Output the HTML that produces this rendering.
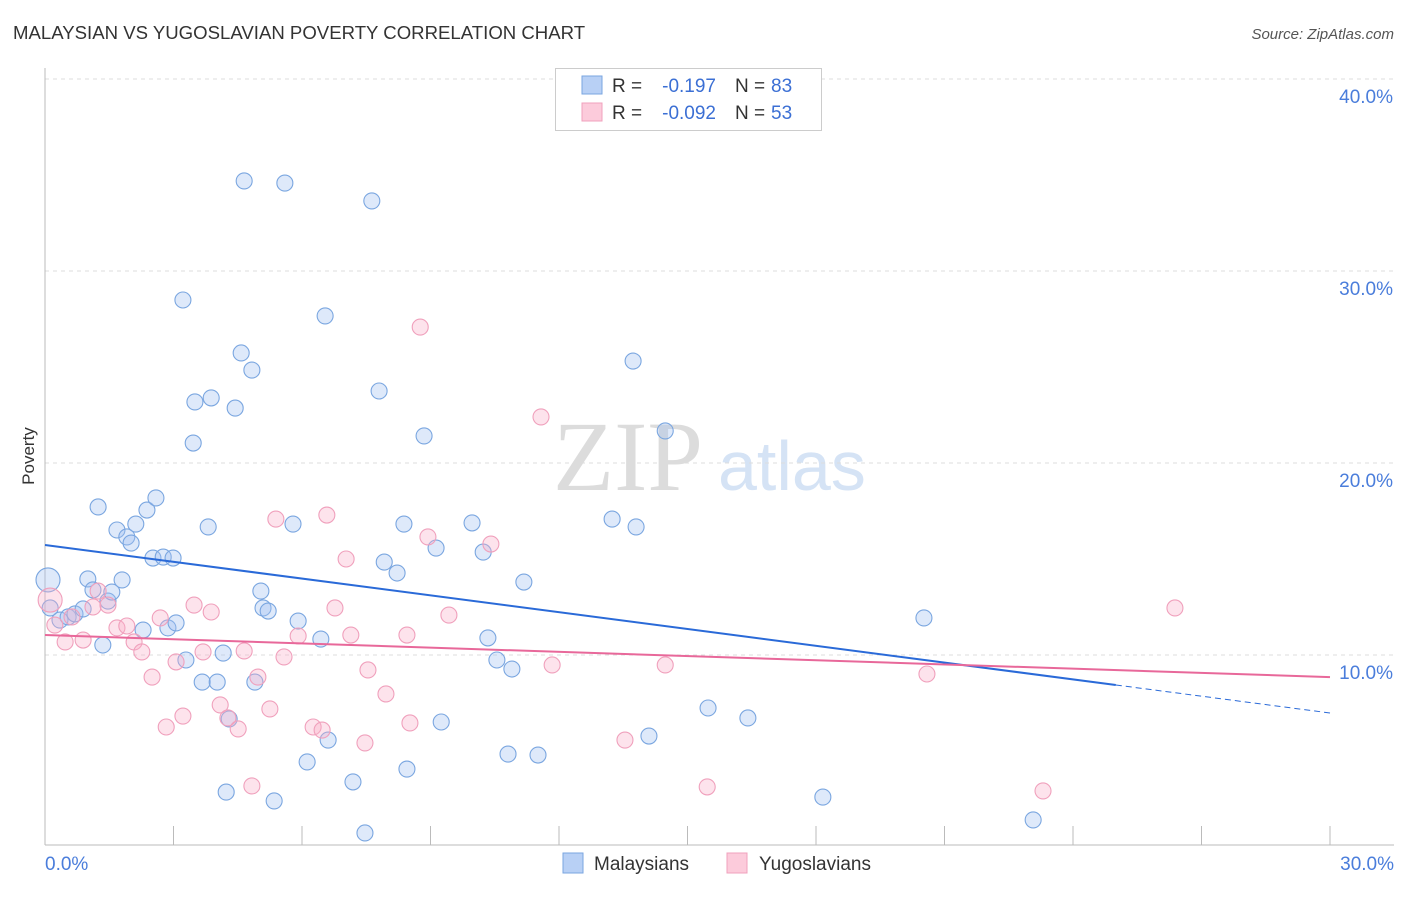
<!DOCTYPE html>
<html><head><meta charset="utf-8"><style>
body{margin:0;background:#fff;font-family:"Liberation Sans",sans-serif;}
</style></head><body>
<svg id="chart" width="1406" height="892" font-family="Liberation Sans, sans-serif">
<text x="13" y="39" font-size="18.6" fill="#333">MALAYSIAN VS YUGOSLAVIAN POVERTY CORRELATION CHART</text>
<text x="1394" y="39" font-size="15" fill="#555" font-style="italic" text-anchor="end">Source: ZipAtlas.com</text>
<text x="34" y="456" font-size="17" fill="#333" transform="rotate(-90 34 456)" text-anchor="middle">Poverty</text>
<g>
<text x="553" y="490" font-size="100" fill="#dcdcdc" style="font-family:'Liberation Serif',serif">ZIP</text>
<text x="718" y="490" font-size="70" fill="#d5e3f5">atlas</text>
</g>
<g id="grid"></g>
<g id="axes"></g>
<g id="pts"></g>
<g id="trend"></g>
<g>
<rect x="555.5" y="68.5" width="266" height="62" fill="#fff" stroke="#ccc"/>
<rect x="582" y="76" width="20" height="18" fill="#b8d0f5" stroke="#7aa6e0"/>
<rect x="582" y="103" width="20" height="18" fill="#fccbdb" stroke="#f0a0bc"/>
<text x="612" y="92" font-size="19" fill="#333">R =</text>
<text x="716" y="92" font-size="19" fill="#3b6fd4" text-anchor="end">-0.197</text>
<text x="735" y="92" font-size="19" fill="#333">N =</text>
<text x="771" y="92" font-size="19" fill="#3b6fd4">83</text>
<text x="612" y="119" font-size="19" fill="#333">R =</text>
<text x="716" y="119" font-size="19" fill="#3b6fd4" text-anchor="end">-0.092</text>
<text x="735" y="119" font-size="19" fill="#333">N =</text>
<text x="771" y="119" font-size="19" fill="#3b6fd4">53</text>
</g>
<g>
<rect x="563" y="853" width="20" height="20" fill="#b8d0f5" stroke="#7aa6e0"/>
<text x="594" y="870" font-size="19" fill="#333">Malaysians</text>
<rect x="727" y="853" width="20" height="20" fill="#fccbdb" stroke="#f0a0bc"/>
<text x="759" y="870" font-size="19" fill="#333">Yugoslavians</text>
</g>
</svg>
<script>
const yTicks=[10,20,30,40];
const yTickLabels=["10.0%","20.0%","30.0%","40.0%"];
const xTickCount=10;
const blueX=[0.07,0.12,0.35,0.54,0.70,0.89,1.00,1.12,1.24,1.35,1.47,1.56,1.68,1.80,1.91,2.01,2.12,2.29,2.38,2.52,2.59,2.76,2.87,2.99,3.06,3.22,3.29,3.46,3.50,3.67,3.81,3.88,4.02,4.16,4.23,4.30,4.44,4.58,4.65,4.83,4.90,5.04,5.09,5.21,5.35,5.60,5.79,5.91,6.12,6.44,6.54,6.61,7.19,7.47,7.63,7.80,7.92,8.22,8.38,8.45,8.85,9.13,9.25,9.97,10.23,10.34,10.55,10.81,10.90,11.18,11.51,13.24,13.73,13.80,14.10,14.48,15.48,16.41,18.16,20.52,23.07];
const blueY=[13.91,12.45,11.82,11.98,12.14,12.40,13.96,13.39,17.71,10.52,12.81,13.28,16.51,13.91,16.15,15.83,16.82,11.30,17.55,15.05,18.18,15.10,11.41,15.05,11.67,28.49,9.74,21.04,23.18,8.59,16.67,23.39,8.59,10.10,2.86,6.67,22.86,25.73,34.69,24.84,8.59,13.33,12.45,12.29,2.40,34.58,16.82,11.77,4.43,10.83,27.66,5.57,3.39,0.73,33.65,23.75,14.84,14.27,16.82,4.06,21.41,15.57,6.51,16.88,15.36,10.89,9.74,4.84,9.27,13.80,4.79,17.08,25.31,16.67,5.78,21.67,7.24,6.72,2.60,11.93,1.41];
const pinkX=[0.12,0.23,0.47,0.63,0.89,1.12,1.24,1.47,1.68,1.91,2.08,2.26,2.50,2.69,2.83,3.06,3.22,3.48,3.69,3.88,4.09,4.27,4.51,4.65,4.83,4.97,5.25,5.39,5.58,5.91,6.26,6.47,6.58,6.77,7.03,7.14,7.47,7.54,7.96,8.45,8.52,8.76,8.94,9.43,10.41,11.58,11.84,13.54,14.48,15.46,20.59,23.30,26.38];
const pinkY=[12.86,11.56,10.68,11.98,10.78,12.50,13.33,12.60,11.41,11.51,10.68,10.16,8.85,11.93,6.25,9.64,6.82,12.60,10.16,12.24,7.40,6.72,6.15,10.21,3.18,8.85,7.19,17.08,9.90,10.99,6.25,6.09,17.29,12.45,15.00,11.04,5.42,9.22,7.97,11.04,6.46,27.08,16.15,12.08,15.78,22.40,9.48,5.57,9.48,3.13,9.01,2.92,12.45];
const blueTrend=[15.73,6.98];
const pinkTrend=[11.04,8.85];
const blueSolidEnd=25;

const NS="http://www.w3.org/2000/svg";
const X=v=>45+v*1285/30, Y=v=>847-v*19.2;
function mk(tag,attrs,parent){const e=document.createElementNS(NS,tag);for(const k in attrs)e.setAttribute(k,attrs[k]);document.getElementById(parent).appendChild(e);return e;}
yTicks.forEach((t,i)=>{
 const l=mk('line',{x1:45,x2:1394,y1:Y(t),y2:Y(t),stroke:'#ddd','stroke-dasharray':'4,4'},'grid');
 
 
 const tx=mk('text',{x:1393,y:Y(t)+24,'font-size':19,fill:'#4a7ddb','text-anchor':'end'},'grid');
 tx.textContent=yTickLabels[i];
 
 
});
mk('line',{x1:45,x2:45,y1:68,y2:845,stroke:'#bbb'},'axes');
mk('line',{x1:45,x2:1394,y1:845,y2:845,stroke:'#bbb'},'axes');
for(let i=0;i<=xTickCount;i++){const x=X(i*3);const t=mk('line',{x1:x,x2:x,y1:826,y2:845,stroke:'#bbb'},'axes');
 
 }
let a=mk('text',{x:45,y:870,'font-size':19,fill:'#4a7ddb'},'axes');a.textContent='0.0%';


a=mk('text',{x:1394,y:870,'font-size':19,fill:'#4a7ddb','text-anchor':'end'},'axes');a.textContent='30.0%';


function pts(xs,ys,fill,stroke,name){xs.forEach((x,i)=>{
 const c=mk('circle',{cx:X(x),cy:Y(ys[i]),r:i===0?12:8,fill:fill,stroke:stroke,'stroke-width':1.1},'pts');
 
 });}
pts(blueX,blueY,'rgba(160,192,240,0.35)','#7aa6e0','malaysian-point');
pts(pinkX,pinkY,'rgba(248,175,200,0.35)','#f0a0bc','yugoslavian-point');
const bAt=x=>blueTrend[0]+(blueTrend[1]-blueTrend[0])*x/30;
let l=mk('line',{x1:X(0),y1:Y(bAt(0)),x2:X(blueSolidEnd),y2:Y(bAt(blueSolidEnd)),stroke:'#2a6ad8','stroke-width':2},'trend');


l=mk('line',{x1:X(blueSolidEnd),y1:Y(bAt(blueSolidEnd)),x2:X(30),y2:Y(bAt(30)),stroke:'#2a6ad8','stroke-width':1,'stroke-dasharray':'6,4'},'trend');


l=mk('line',{x1:X(0),y1:Y(pinkTrend[0]),x2:X(30),y2:Y(pinkTrend[1]),stroke:'#e8689a','stroke-width':2},'trend');


</script>
</body></html>
